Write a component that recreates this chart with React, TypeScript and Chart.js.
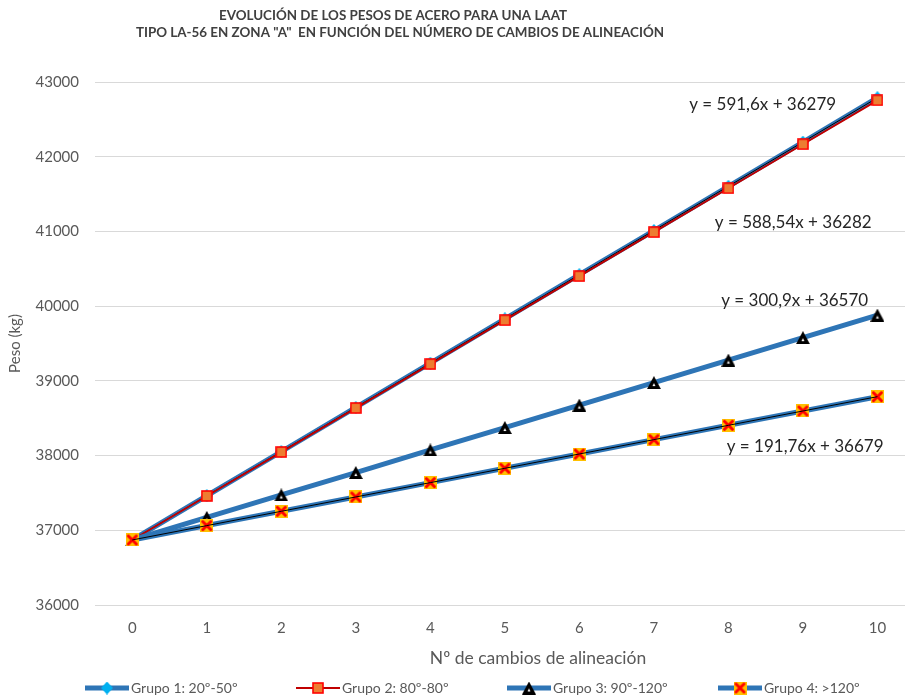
import React, { useEffect, useRef } from "react";
import { Chart, registerables } from "chart.js";
Chart.register(...registerables);

const categories = [0, 1, 2, 3, 4, 5, 6, 7, 8, 9, 10];
const seriesNames = ["Grupo 1: 20º-50º", "Grupo 2: 80º-80º", "Grupo 3: 90º-120º", "Grupo 4: >120º"];
const grupo1 = [36870, 37462, 38054, 38645, 39237, 39829, 40421, 41012, 41604, 42196, 42790];
const grupo2 = [36870, 37459, 38047, 38636, 39224, 39812, 40401, 40990, 41578, 42167, 42755];
const grupo3 = [36870, 37172, 37473, 37773, 38075, 38375, 38676, 38977, 39278, 39578, 39880];
const grupo4 = [36870, 37063, 37254, 37446, 37638, 37830, 38021, 38213, 38405, 38597, 38788];
const yTicks = [36000, 37000, 38000, 39000, 40000, 41000, 42000, 43000];
const trendLabels = ["y = 591,6x + 36279", "y = 588,54x + 36282", "y = 300,9x + 36570", "y = 191,76x + 36679"];
const titleLines = [
  "EVOLUCIÓN DE LOS PESOS DE ACERO PARA UNA LAAT",
  "TIPO LA-56 EN ZONA \"A\"  EN FUNCIÓN DEL NÚMERO DE CAMBIOS DE ALINEACIÓN",
];
const xTitle = "Nº de cambios de alineación";
const yTitle = "Peso (kg)";

const FONT = "Lato, 'Open Sans', sans-serif";
const BLUE = "#2E75B6";

function fitLine(values: number[]) {
  const n = values.length;
  const xs = categories;
  const mx = xs.reduce((a, b) => a + b, 0) / n;
  const my = values.reduce((a, b) => a + b, 0) / n;
  let sxy = 0, sxx = 0;
  for (let i = 0; i < n; i++) {
    sxy += (xs[i] - mx) * (values[i] - my);
    sxx += (xs[i] - mx) * (xs[i] - mx);
  }
  const m = sxy / sxx;
  const b = my - m * mx;
  return xs.map((x) => ({ x, y: m * x + b }));
}

function mk(w: number, h: number, draw: (c: CanvasRenderingContext2D) => void) {
  const c = document.createElement("canvas");
  c.width = w;
  c.height = h;
  draw(c.getContext("2d") as CanvasRenderingContext2D);
  return c;
}

function makeMarkers() {
  const diamond = mk(12, 13, (c) => {
    c.fillStyle = "#00B0F0";
    c.beginPath();
    c.moveTo(6, 0);
    c.lineTo(12, 6.5);
    c.lineTo(6, 13);
    c.lineTo(0, 6.5);
    c.closePath();
    c.fill();
  });
  const square = mk(12, 12, (c) => {
    c.fillStyle = "#ED7D31";
    c.fillRect(1, 1, 10, 10);
    c.strokeStyle = "#FF0000";
    c.lineWidth = 1.6;
    c.strokeRect(1, 1, 10, 10);
  });
  const triangle = mk(14, 13, (c) => {
    c.fillStyle = "#000000";
    c.beginPath();
    c.moveTo(7, 0);
    c.lineTo(14, 13);
    c.lineTo(0, 13);
    c.closePath();
    c.fill();
    c.fillStyle = "#FFFFFF";
    c.beginPath();
    c.moveTo(7, 7);
    c.lineTo(8.5, 10);
    c.lineTo(5.5, 10);
    c.closePath();
    c.fill();
  });
  const cross = mk(13, 13, (c) => {
    c.fillStyle = "#FFC000";
    c.fillRect(0, 0, 13, 13);
    c.strokeStyle = "#FF0000";
    c.lineWidth = 3;
    c.lineCap = "round";
    c.beginPath();
    c.moveTo(2.5, 2.5);
    c.lineTo(10.5, 10.5);
    c.moveTo(10.5, 2.5);
    c.lineTo(2.5, 10.5);
    c.stroke();
  });
  return { diamond, square, triangle, cross };
}

export default function App() {
  const ref = useRef<HTMLCanvasElement | null>(null);

  useEffect(() => {
    document.body.style.margin = "0";
    const canvas = ref.current;
    if (!canvas) return;
    const mks = makeMarkers();
    const pts = (arr: number[]) => categories.map((x, i) => ({ x, y: arr[i] }));

    const legendItems = [
      { name: seriesNames[0], color: BLUE, width: 5, marker: mks.diamond },
      { name: seriesNames[1], color: "#C00000", width: 2, marker: mks.square },
      { name: seriesNames[2], color: BLUE, width: 5, marker: mks.triangle },
      { name: seriesNames[3], color: BLUE, width: 5, marker: mks.cross },
    ];

    const decorPlugin = {
      id: "decor",
      afterDraw(chart: any) {
        const ctx = chart.ctx;
        const xs = chart.scales.x;
        const ys = chart.scales.y;
        ctx.save();
        // title
        ctx.fillStyle = "#404040";
        ctx.font = `bold 13.4px ${FONT}`;
        ctx.textAlign = "center";
        ctx.textBaseline = "middle";
        ctx.fillText(titleLines[0], 393, 16);
        ctx.fillText(titleLines[1], 400, 33);
        // x axis title
        ctx.fillStyle = "#595959";
        ctx.font = `17.5px ${FONT}`;
        ctx.fillText(xTitle, 538, 658);
        // trend labels
        const pos = [
          [8.46, 42692],
          [8.87, 41113],
          [8.89, 40082],
          [9.03, 38115],
        ];
        ctx.font = `17px ${FONT}`;
        ctx.fillStyle = "#262626";
        trendLabels.forEach((t, i) => {
          ctx.fillText(t, xs.getPixelForValue(pos[i][0]), ys.getPixelForValue(pos[i][1]));
        });
        // legend
        ctx.font = `14px ${FONT}`;
        ctx.textAlign = "left";
        const ly = 688;
        legendItems.forEach((it, i) => {
          const x0 = 85 + i * 211;
          ctx.strokeStyle = it.color;
          ctx.lineWidth = it.width;
          ctx.beginPath();
          ctx.moveTo(x0, ly);
          ctx.lineTo(x0 + 44, ly);
          ctx.stroke();
          const m = it.marker;
          ctx.drawImage(m, x0 + 22 - m.width / 2, ly - m.height / 2);
          ctx.fillStyle = "#595959";
          ctx.fillText(it.name, x0 + 46, ly);
        });
        ctx.restore();
      },
    };

    const chart = new Chart(canvas, {
      type: "line",
      data: {
        datasets: [
          {
            label: seriesNames[0],
            data: pts(grupo1),
            borderColor: BLUE,
            borderWidth: 5,
            pointStyle: mks.diamond as any,
            pointRadius: 6,
            order: 9,
          },
          {
            label: "trend1",
            data: fitLine(grupo1),
            borderColor: "#000000",
            borderWidth: 1,
            pointRadius: 0,
            order: 8,
          },
          {
            label: seriesNames[1],
            data: pts(grupo2),
            borderColor: "#C00000",
            borderWidth: 2,
            pointStyle: mks.square as any,
            pointRadius: 6,
            order: 7,
          },
          {
            label: seriesNames[2],
            data: pts(grupo3),
            borderColor: BLUE,
            borderWidth: 5,
            pointStyle: mks.triangle as any,
            pointRadius: 6,
            order: 6,
          },
          {
            label: seriesNames[3],
            data: pts(grupo4),
            borderColor: BLUE,
            borderWidth: 5,
            pointStyle: mks.cross as any,
            pointRadius: 6,
            order: 5,
          },
          {
            label: "trend4",
            data: fitLine(grupo4),
            borderColor: "#000000",
            borderWidth: 1,
            pointRadius: 0,
            order: 4,
          },
        ],
      },
      options: {
        animation: false,
        responsive: false,
        events: [],
        layout: { autoPadding: false, padding: { top: 82, right: 0, left: 0, bottom: 0 } },
        plugins: {
          legend: { display: false },
          title: { display: false },
          tooltip: { enabled: false },
        },
        scales: {
          x: {
            type: "linear",
            min: -0.5,
            max: 10.37,
            afterBuildTicks: (s: any) => {
              s.ticks = categories.map((v) => ({ value: v }));
            },
            afterFit: (s: any) => {
              s.height = 93;
              s.paddingLeft = 0;
              s.paddingRight = 0;
            },
            grid: { display: false, drawTicks: false },
            border: { display: true, color: "#D9D9D9", width: 1 },
            ticks: {
              padding: 14,
              color: "#595959",
              font: { family: FONT, size: 15 },
              maxRotation: 0,
              autoSkip: false,
              callback: (v: any) => String(v),
            },
            title: { display: false },
          },
          y: {
            min: 36000,
            max: 43000,
            afterBuildTicks: (s: any) => {
              s.ticks = yTicks.map((v) => ({ value: v }));
            },
            afterFit: (s: any) => {
              s.width = 95;
            },
            grid: { color: "#D9D9D9", drawTicks: false, lineWidth: 1 },
            border: { display: false },
            ticks: {
              padding: 16,
              color: "#595959",
              font: { family: FONT, size: 15 },
              callback: (v: any) => String(v),
            },
            title: {
              display: true,
              text: yTitle,
              color: "#595959",
              font: { family: FONT, size: 15 },
              padding: { top: 6, bottom: 0 },
            },
          },
        },
      },
      plugins: [decorPlugin],
    });
    return () => chart.destroy();
  }, []);

  return <canvas ref={ref} width={905} height={698} style={{ display: "block" }} />;
}
